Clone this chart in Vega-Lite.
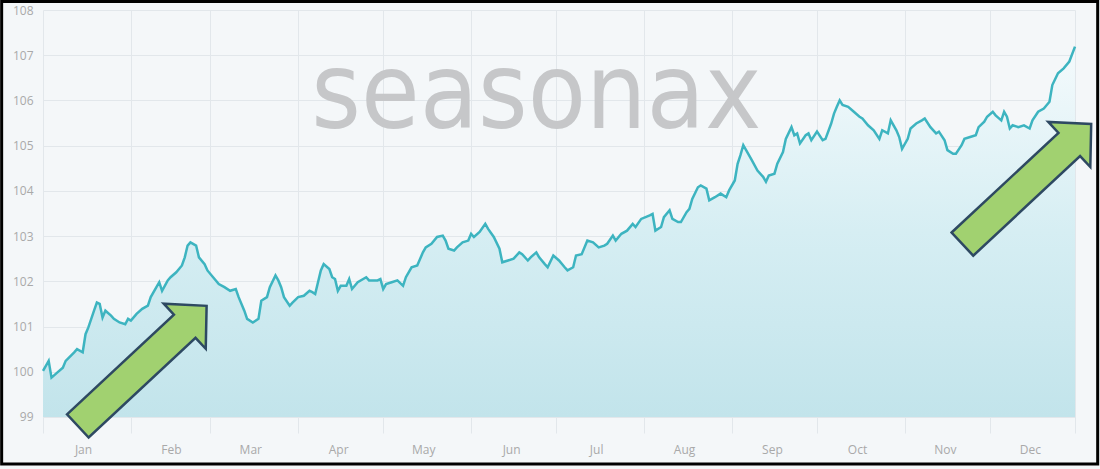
{
  "$schema": "https://vega.github.io/schema/vega-lite/v6.json",
  "width": 1032,
  "height": 423,
  "autosize": {"type": "none"},
  "padding": {"left": 43, "top": 10, "right": 25, "bottom": 36},
  "background": "#f4f7f9",
  "config": {
    "view": {"stroke": null},
    "axis": {
      "grid": true,
      "gridColor": "#e2e7eb",
      "gridWidth": 1,
      "ticks": false,
      "domain": false,
      "labelColor": "#a9a9a9",
      "labelFont": "Open Sans",
      "labelFontSize": 12,
      "title": null
    }
  },
  "datasets": {
    "season": [
      {"date": "2023-01-01", "value": 100.02}, {"date": "2023-01-03", "value": 100.24}, {"date": "2023-01-04", "value": 99.87},
      {"date": "2023-01-06", "value": 99.98}, {"date": "2023-01-08", "value": 100.09}, {"date": "2023-01-09", "value": 100.24},
      {"date": "2023-01-12", "value": 100.43}, {"date": "2023-01-13", "value": 100.5}, {"date": "2023-01-15", "value": 100.43},
      {"date": "2023-01-16", "value": 100.83}, {"date": "2023-01-17", "value": 100.98}, {"date": "2023-01-19", "value": 101.35},
      {"date": "2023-01-20", "value": 101.53}, {"date": "2023-01-21", "value": 101.5}, {"date": "2023-01-22", "value": 101.2},
      {"date": "2023-01-23", "value": 101.35}, {"date": "2023-01-25", "value": 101.24}, {"date": "2023-01-26", "value": 101.17},
      {"date": "2023-01-28", "value": 101.09}, {"date": "2023-01-30", "value": 101.05}, {"date": "2023-01-31", "value": 101.17},
      {"date": "2023-02-01", "value": 101.13}, {"date": "2023-02-03", "value": 101.28}, {"date": "2023-02-05", "value": 101.39},
      {"date": "2023-02-07", "value": 101.46}, {"date": "2023-02-08", "value": 101.65}, {"date": "2023-02-10", "value": 101.87},
      {"date": "2023-02-11", "value": 101.98}, {"date": "2023-02-12", "value": 101.79}, {"date": "2023-02-14", "value": 102.02},
      {"date": "2023-02-15", "value": 102.09}, {"date": "2023-02-17", "value": 102.2}, {"date": "2023-02-19", "value": 102.35},
      {"date": "2023-02-20", "value": 102.53}, {"date": "2023-02-21", "value": 102.79}, {"date": "2023-02-22", "value": 102.86},
      {"date": "2023-02-24", "value": 102.79}, {"date": "2023-02-25", "value": 102.53}, {"date": "2023-02-27", "value": 102.38},
      {"date": "2023-02-28", "value": 102.24}, {"date": "2023-03-02", "value": 102.09}, {"date": "2023-03-04", "value": 101.94},
      {"date": "2023-03-06", "value": 101.87}, {"date": "2023-03-08", "value": 101.79}, {"date": "2023-03-10", "value": 101.83},
      {"date": "2023-03-11", "value": 101.65}, {"date": "2023-03-13", "value": 101.35}, {"date": "2023-03-14", "value": 101.17},
      {"date": "2023-03-16", "value": 101.09}, {"date": "2023-03-18", "value": 101.17}, {"date": "2023-03-19", "value": 101.57},
      {"date": "2023-03-21", "value": 101.65}, {"date": "2023-03-22", "value": 101.87}, {"date": "2023-03-24", "value": 102.13},
      {"date": "2023-03-25", "value": 102.02}, {"date": "2023-03-26", "value": 101.87}, {"date": "2023-03-27", "value": 101.65},
      {"date": "2023-03-29", "value": 101.46}, {"date": "2023-03-30", "value": 101.53}, {"date": "2023-04-01", "value": 101.65},
      {"date": "2023-04-03", "value": 101.68}, {"date": "2023-04-05", "value": 101.79}, {"date": "2023-04-06", "value": 101.76},
      {"date": "2023-04-07", "value": 101.72}, {"date": "2023-04-09", "value": 102.24}, {"date": "2023-04-10", "value": 102.38},
      {"date": "2023-04-12", "value": 102.27}, {"date": "2023-04-13", "value": 102.09}, {"date": "2023-04-14", "value": 102.05},
      {"date": "2023-04-15", "value": 101.79}, {"date": "2023-04-16", "value": 101.9}, {"date": "2023-04-18", "value": 101.9},
      {"date": "2023-04-19", "value": 102.05}, {"date": "2023-04-20", "value": 101.83}, {"date": "2023-04-22", "value": 101.98},
      {"date": "2023-04-25", "value": 102.09}, {"date": "2023-04-26", "value": 102.02}, {"date": "2023-04-29", "value": 102.02},
      {"date": "2023-04-30", "value": 102.05}, {"date": "2023-05-01", "value": 101.83}, {"date": "2023-05-02", "value": 101.94},
      {"date": "2023-05-04", "value": 101.98}, {"date": "2023-05-06", "value": 102.02}, {"date": "2023-05-08", "value": 101.9},
      {"date": "2023-05-09", "value": 102.09}, {"date": "2023-05-11", "value": 102.31}, {"date": "2023-05-13", "value": 102.35},
      {"date": "2023-05-15", "value": 102.64}, {"date": "2023-05-16", "value": 102.75}, {"date": "2023-05-18", "value": 102.83},
      {"date": "2023-05-20", "value": 102.98}, {"date": "2023-05-22", "value": 103.01}, {"date": "2023-05-23", "value": 102.9},
      {"date": "2023-05-24", "value": 102.72}, {"date": "2023-05-26", "value": 102.68}, {"date": "2023-05-27", "value": 102.75},
      {"date": "2023-05-29", "value": 102.86}, {"date": "2023-05-31", "value": 102.9}, {"date": "2023-06-01", "value": 103.05},
      {"date": "2023-06-02", "value": 102.98}, {"date": "2023-06-04", "value": 103.09}, {"date": "2023-06-06", "value": 103.27},
      {"date": "2023-06-07", "value": 103.16}, {"date": "2023-06-09", "value": 102.98}, {"date": "2023-06-11", "value": 102.72},
      {"date": "2023-06-12", "value": 102.42}, {"date": "2023-06-14", "value": 102.46}, {"date": "2023-06-16", "value": 102.5},
      {"date": "2023-06-18", "value": 102.64}, {"date": "2023-06-19", "value": 102.6}, {"date": "2023-06-21", "value": 102.46},
      {"date": "2023-06-22", "value": 102.53}, {"date": "2023-06-24", "value": 102.64}, {"date": "2023-06-25", "value": 102.53},
      {"date": "2023-06-27", "value": 102.38}, {"date": "2023-06-28", "value": 102.31}, {"date": "2023-06-30", "value": 102.57},
      {"date": "2023-07-02", "value": 102.46}, {"date": "2023-07-04", "value": 102.31}, {"date": "2023-07-05", "value": 102.24},
      {"date": "2023-07-07", "value": 102.31}, {"date": "2023-07-08", "value": 102.57}, {"date": "2023-07-10", "value": 102.6},
      {"date": "2023-07-12", "value": 102.9}, {"date": "2023-07-14", "value": 102.86}, {"date": "2023-07-16", "value": 102.75},
      {"date": "2023-07-18", "value": 102.79}, {"date": "2023-07-19", "value": 102.83}, {"date": "2023-07-21", "value": 103.01},
      {"date": "2023-07-22", "value": 102.9}, {"date": "2023-07-24", "value": 103.05}, {"date": "2023-07-26", "value": 103.12},
      {"date": "2023-07-28", "value": 103.27}, {"date": "2023-07-29", "value": 103.2}, {"date": "2023-07-31", "value": 103.38},
      {"date": "2023-08-03", "value": 103.46}, {"date": "2023-08-04", "value": 103.49}, {"date": "2023-08-05", "value": 103.12},
      {"date": "2023-08-07", "value": 103.2}, {"date": "2023-08-08", "value": 103.42}, {"date": "2023-08-10", "value": 103.57},
      {"date": "2023-08-11", "value": 103.38}, {"date": "2023-08-13", "value": 103.31}, {"date": "2023-08-14", "value": 103.31},
      {"date": "2023-08-16", "value": 103.53}, {"date": "2023-08-17", "value": 103.6}, {"date": "2023-08-18", "value": 103.82},
      {"date": "2023-08-20", "value": 104.08}, {"date": "2023-08-21", "value": 104.12}, {"date": "2023-08-23", "value": 104.05},
      {"date": "2023-08-24", "value": 103.79}, {"date": "2023-08-26", "value": 103.86}, {"date": "2023-08-28", "value": 103.94},
      {"date": "2023-08-30", "value": 103.86}, {"date": "2023-08-31", "value": 104.01}, {"date": "2023-09-02", "value": 104.23},
      {"date": "2023-09-03", "value": 104.6}, {"date": "2023-09-04", "value": 104.79}, {"date": "2023-09-05", "value": 105.01},
      {"date": "2023-09-06", "value": 104.9}, {"date": "2023-09-08", "value": 104.68}, {"date": "2023-09-10", "value": 104.45},
      {"date": "2023-09-12", "value": 104.31}, {"date": "2023-09-13", "value": 104.2}, {"date": "2023-09-14", "value": 104.34},
      {"date": "2023-09-16", "value": 104.38}, {"date": "2023-09-17", "value": 104.6}, {"date": "2023-09-19", "value": 104.86},
      {"date": "2023-09-20", "value": 105.15}, {"date": "2023-09-22", "value": 105.41}, {"date": "2023-09-23", "value": 105.23},
      {"date": "2023-09-24", "value": 105.27}, {"date": "2023-09-25", "value": 105.05}, {"date": "2023-09-27", "value": 105.23},
      {"date": "2023-09-28", "value": 105.27}, {"date": "2023-09-29", "value": 105.12}, {"date": "2023-10-01", "value": 105.31},
      {"date": "2023-10-03", "value": 105.12}, {"date": "2023-10-04", "value": 105.15}, {"date": "2023-10-06", "value": 105.49},
      {"date": "2023-10-07", "value": 105.71}, {"date": "2023-10-08", "value": 105.86}, {"date": "2023-10-09", "value": 106.0},
      {"date": "2023-10-10", "value": 105.9}, {"date": "2023-10-12", "value": 105.86}, {"date": "2023-10-14", "value": 105.75},
      {"date": "2023-10-16", "value": 105.64}, {"date": "2023-10-17", "value": 105.6}, {"date": "2023-10-19", "value": 105.45},
      {"date": "2023-10-21", "value": 105.34}, {"date": "2023-10-23", "value": 105.15}, {"date": "2023-10-24", "value": 105.34},
      {"date": "2023-10-26", "value": 105.27}, {"date": "2023-10-27", "value": 105.56}, {"date": "2023-10-29", "value": 105.34},
      {"date": "2023-10-30", "value": 105.19}, {"date": "2023-10-31", "value": 104.93}, {"date": "2023-11-02", "value": 105.15},
      {"date": "2023-11-03", "value": 105.38}, {"date": "2023-11-05", "value": 105.49}, {"date": "2023-11-07", "value": 105.56},
      {"date": "2023-11-08", "value": 105.6}, {"date": "2023-11-10", "value": 105.41}, {"date": "2023-11-12", "value": 105.27},
      {"date": "2023-11-13", "value": 105.31}, {"date": "2023-11-15", "value": 105.12}, {"date": "2023-11-16", "value": 104.9},
      {"date": "2023-11-18", "value": 104.82}, {"date": "2023-11-19", "value": 104.82}, {"date": "2023-11-21", "value": 105.01},
      {"date": "2023-11-22", "value": 105.15}, {"date": "2023-11-24", "value": 105.19}, {"date": "2023-11-26", "value": 105.23},
      {"date": "2023-11-27", "value": 105.41}, {"date": "2023-11-29", "value": 105.53}, {"date": "2023-11-30", "value": 105.64},
      {"date": "2023-12-02", "value": 105.75}, {"date": "2023-12-03", "value": 105.67}, {"date": "2023-12-05", "value": 105.56},
      {"date": "2023-12-06", "value": 105.75}, {"date": "2023-12-07", "value": 105.64}, {"date": "2023-12-08", "value": 105.38},
      {"date": "2023-12-09", "value": 105.45}, {"date": "2023-12-11", "value": 105.41}, {"date": "2023-12-13", "value": 105.45},
      {"date": "2023-12-15", "value": 105.38}, {"date": "2023-12-16", "value": 105.56}, {"date": "2023-12-18", "value": 105.75},
      {"date": "2023-12-20", "value": 105.82}, {"date": "2023-12-22", "value": 105.97}, {"date": "2023-12-23", "value": 106.34},
      {"date": "2023-12-25", "value": 106.6}, {"date": "2023-12-27", "value": 106.71}, {"date": "2023-12-29", "value": 106.86},
      {"date": "2023-12-31", "value": 107.19}
    ],
    "arrows": [
      {"date": "2023-02-05", "value": 100.13},
      {"date": "2023-12-14", "value": 104.15}
    ]
  },
  "layer": [
    {
      "data": {"name": "season"},
      "mark": {
        "type": "area",
        "line": false,
        "fill": {
          "gradient": "linear",
          "x1": 0, "y1": 0, "x2": 0, "y2": 1,
          "stops": [
            {"offset": 0, "color": "#f4fafc"},
            {"offset": 0.5, "color": "#d6eef3"},
            {"offset": 1, "color": "#c2e4eb"}
          ]
        }
      },
      "encoding": {
        "x": {
          "field": "date",
          "type": "temporal",
          "scale": {"domain": [{"year": 2023, "month": 1, "date": 1, "utc": true}, {"year": 2023, "month": 12, "date": 31, "utc": true}]},
          "axis": {
            "values": [
              {"year": 2023, "month": 1, "date": 1, "utc": true},
              {"year": 2023, "month": 2, "date": 1, "utc": true},
              {"year": 2023, "month": 3, "date": 1, "utc": true},
              {"year": 2023, "month": 4, "date": 1, "utc": true},
              {"year": 2023, "month": 5, "date": 1, "utc": true},
              {"year": 2023, "month": 6, "date": 1, "utc": true},
              {"year": 2023, "month": 7, "date": 1, "utc": true},
              {"year": 2023, "month": 8, "date": 1, "utc": true},
              {"year": 2023, "month": 9, "date": 1, "utc": true},
              {"year": 2023, "month": 10, "date": 1, "utc": true},
              {"year": 2023, "month": 11, "date": 1, "utc": true},
              {"year": 2023, "month": 12, "date": 1, "utc": true},
              {"year": 2023, "month": 12, "date": 31, "utc": true}
            ],
            "labelExpr": "utcdate(datum.value) == 31 ? '' : utcFormat(datum.value, '%b')",
            "labelOffset": 40,
            "labelPadding": 11,
            "labelFlush": false,
            "labelOverlap": false
          }
        },
        "y": {
          "field": "value",
          "type": "quantitative",
          "scale": {"domain": [98.645, 108], "nice": false, "zero": false},
          "axis": {
            "values": [99, 100, 101, 102, 103, 104, 105, 106, 107, 108],
            "labelPadding": 10
          }
        },
        "y2": {"datum": 99}
      }
    },
    {
      "data": {"values": [{"label": "seasonax"}]},
      "mark": {
        "type": "text",
        "font": "DejaVu Sans Condensed",
        "fontSize": 106,
        "align": "center",
        "baseline": "alphabetic",
        "color": "#c6c7c9"
      },
      "encoding": {
        "x": {"datum": {"year": 2023, "month": 6, "date": 24, "utc": true}, "type": "temporal"},
        "y": {"datum": 105.39, "type": "quantitative"},
        "text": {"field": "label"}
      }
    },
    {
      "data": {"name": "season"},
      "mark": {"type": "line", "color": "#3db4c0", "strokeWidth": 2.5},
      "encoding": {
        "x": {"field": "date", "type": "temporal"},
        "y": {"field": "value", "type": "quantitative"}
      }
    },
    {
      "data": {"name": "arrows"},
      "mark": {
        "type": "point",
        "shape": "M-1,-0.18L0.66,-0.18L0.66,-0.35L1,0L0.66,0.35L0.66,0.18L-1,0.18Z",
        "filled": true,
        "fill": "#a1d170",
        "stroke": "#2e4962",
        "strokeWidth": 2.5,
        "opacity": 1,
        "size": 31000,
        "angle": -43
      },
      "encoding": {
        "x": {"field": "date", "type": "temporal"},
        "y": {"field": "value", "type": "quantitative"}
      }
    },
    {
      "data": {"values": [{}]},
      "mark": {"type": "rect", "fill": null, "stroke": "#000000", "strokeWidth": 3, "clip": false},
      "encoding": {
        "x": {"datum": {"year": 2022, "month": 12, "date": 17, "hours": 10, "utc": true}, "type": "temporal"},
        "x2": {"datum": {"year": 2024, "month": 1, "date": 8, "utc": true}},
        "y": {"datum": 108.188, "type": "quantitative"},
        "y2": {"datum": 97.959}
      }
    }
  ]
}
